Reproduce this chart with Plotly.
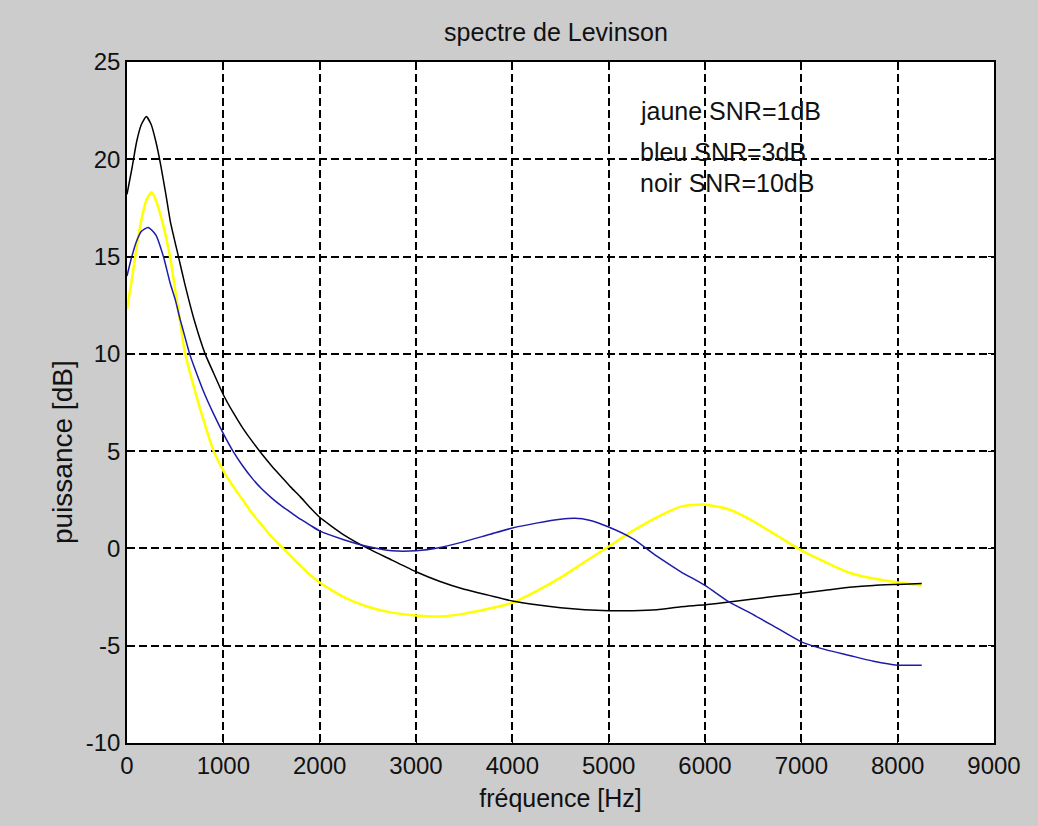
import plotly.graph_objects as go

# Frequency samples (Hz)
freq_black = [0, 50, 100, 150, 200, 250, 300, 350, 400, 450, 534, 600, 700, 811, 900, 1000,
              1100, 1200, 1300, 1400, 1500, 1600, 1700, 1800, 1900, 2000, 2250, 2500, 2750,
              3000, 3250, 3500, 3750, 4000, 4250, 4500, 4750, 5000, 5250, 5500, 5750, 6000,
              6250, 6500, 6750, 7000, 7250, 7500, 7750, 8000, 8250]
noir_10dB = [18.2, 19.5, 20.9, 21.8, 22.2, 21.8, 20.9, 19.7, 18.3, 16.8, 15.0, 13.6, 11.7, 10.0,
             9.0, 7.9, 7.0, 6.2, 5.5, 4.85, 4.25, 3.7, 3.15, 2.65, 2.1, 1.6, 0.7, 0.0, -0.6,
             -1.2, -1.7, -2.1, -2.4, -2.7, -2.9, -3.05, -3.15, -3.2, -3.2, -3.15, -3.0, -2.9,
             -2.75, -2.6, -2.45, -2.3, -2.15, -2.0, -1.9, -1.85, -1.8]

freq_blue = [0, 50, 100, 150, 220, 300, 378, 450, 500, 550, 600, 650, 700, 800, 900, 1000,
             1100, 1200, 1300, 1400, 1500, 1600, 1700, 1800, 1900, 2000, 2250, 2500, 2750,
             3000, 3250, 3500, 3750, 4000, 4250, 4500, 4650, 4800, 5000, 5250, 5500, 5750,
             6000, 6250, 6500, 6750, 7000, 7250, 7500, 7750, 8000, 8250]
bleu_3dB = [14.0, 15.0, 15.8, 16.3, 16.5, 16.1, 15.0, 13.6, 12.8, 11.8, 10.9, 10.0, 9.3, 8.0,
            6.9, 5.9, 5.0, 4.25, 3.6, 3.05, 2.6, 2.2, 1.85, 1.5, 1.2, 0.9, 0.45, 0.1, -0.12,
            -0.12, 0.05, 0.35, 0.7, 1.05, 1.3, 1.5, 1.55, 1.45, 1.1, 0.5, -0.4, -1.2, -1.9,
            -2.75, -3.4, -4.1, -4.8, -5.2, -5.5, -5.8, -6.0, -6.0]

freq_yellow = [0, 50, 100, 150, 200, 256, 300, 350, 400, 450, 500, 550, 600, 700, 800, 900,
               1000, 1100, 1200, 1300, 1400, 1500, 1600, 1700, 1800, 1900, 2000, 2250, 2500,
               2750, 3000, 3250, 3500, 3750, 4000, 4250, 4500, 4750, 5000, 5250, 5500, 5750,
               6000, 6250, 6500, 6750, 7000, 7250, 7500, 7750, 8000, 8250]
jaune_1dB = [12.3, 13.8, 15.5, 16.9, 17.9, 18.3, 17.9, 17.1, 16.1, 14.9, 13.3, 11.7, 10.1, 8.2,
             6.5, 5.0, 4.0, 3.2, 2.5, 1.8, 1.2, 0.6, 0.1, -0.4, -0.9, -1.35, -1.75, -2.5, -3.0,
             -3.3, -3.45, -3.5, -3.35, -3.1, -2.8, -2.2, -1.5, -0.7, 0.1, 0.9, 1.6, 2.15,
             2.25, 2.0, 1.4, 0.65, -0.1, -0.7, -1.25, -1.55, -1.75, -1.9]

x_ticks = [0, 1000, 2000, 3000, 4000, 5000, 6000, 7000, 8000, 9000]
y_ticks = [-10, -5, 0, 5, 10, 15, 20, 25]

legend_texts = ["jaune SNR=1dB", "bleu SNR=3dB", "noir SNR=10dB"]
legend_x = [5300, 5300, 5300]
legend_y = [22.5, 20.4, 18.8]

FONT = "Liberation Sans, Arial, sans-serif"
TXT = "#111111"

fig = go.Figure()
fig.add_trace(go.Scatter(x=freq_yellow, y=jaune_1dB, mode="lines",
                         line=dict(color="#ffff00", width=2.5, shape="spline", smoothing=0.6),
                         showlegend=False))
fig.add_trace(go.Scatter(x=freq_black, y=noir_10dB, mode="lines",
                         line=dict(color="#000000", width=1.5, shape="spline", smoothing=0.5),
                         showlegend=False))
fig.add_trace(go.Scatter(x=freq_blue, y=bleu_3dB, mode="lines",
                         line=dict(color="#1c1ca8", width=1.5, shape="spline", smoothing=0.6),
                         showlegend=False))

for t, x, y in zip(legend_texts, legend_x, legend_y):
    fig.add_annotation(x=x, y=y, xref="x", yref="y", text=t, showarrow=False,
                       xanchor="left", yanchor="middle",
                       font=dict(family=FONT, size=25, color=TXT))

# y-axis label placed as annotation to match reference position
fig.add_annotation(x=(62 - 127) / 867, y=(743 - 452) / 681, xref="paper", yref="paper",
                   text="puissance [dB]", textangle=-90, showarrow=False,
                   xanchor="center", yanchor="middle",
                   font=dict(family=FONT, size=28, color=TXT))

fig.update_layout(
    width=1038, height=826,
    margin=dict(l=127, r=44, t=62, b=83),
    paper_bgcolor="#cccccc", plot_bgcolor="#ffffff",
    font=dict(family=FONT, size=24, color=TXT),
    title=dict(text="spectre de Levinson", x=(556 / 1038), xanchor="center", y=1 - 32 / 826,
               yanchor="middle", font=dict(family=FONT, size=25, color=TXT)),
    showlegend=False,
)
fig.update_xaxes(range=[0, 9000], tickvals=x_ticks, ticktext=[str(v) for v in x_ticks],
                 showgrid=True, gridcolor="black", gridwidth=2, griddash="8px,4px",
                 showline=True, linecolor="black", linewidth=1.5, mirror="ticks",
                 ticks="inside", ticklen=6, tickcolor="black", zeroline=False,
                 tickfont=dict(family=FONT, size=24, color=TXT),
                 title=dict(text="fréquence [Hz]", standoff=12,
                            font=dict(family=FONT, size=25, color=TXT)))
fig.update_yaxes(range=[-10, 25], tickvals=y_ticks, ticktext=[str(v) for v in y_ticks],
                 showgrid=True, gridcolor="black", gridwidth=2, griddash="8px,4px",
                 showline=True, linecolor="black", linewidth=1.5, mirror="ticks",
                 ticks="inside", ticklen=6, tickcolor="black", zeroline=False,
                 tickfont=dict(family=FONT, size=24, color=TXT))

fig.write_html("out.html")
